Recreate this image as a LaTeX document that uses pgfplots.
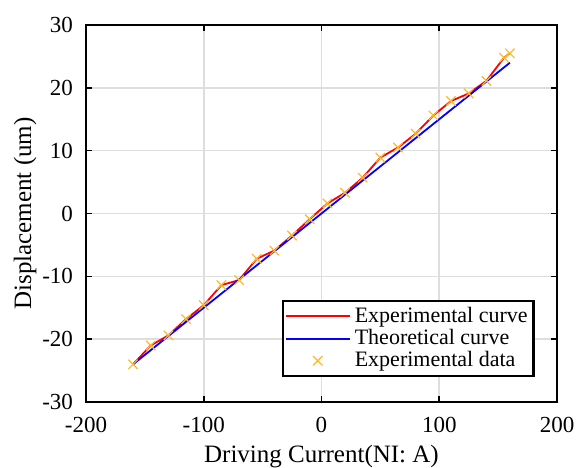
\documentclass[border=0pt]{standalone}
\usepackage{fontspec}
\setmainfont{Liberation Serif}
\usepackage{pgfplots}
\pgfplotsset{compat=1.18}
\definecolor{dataorange}{RGB}{255,184,40}
\definecolor{gridgray}{RGB}{222,222,222}
\pgfplotsset{
    longline/.style={legend image code/.code={\draw[##1, draw=#1, line width=1pt] (0pt,0pt) -- (32pt,0pt);}},
    centermark/.style={legend image code/.code={\draw[##1] plot coordinates {(16pt,0pt)};}},
}

\begin{document}
\begin{tikzpicture}
\begin{axis}[
    scale only axis,
    width=235.5pt, height=188.5pt,
    xmin=-200, xmax=200,
    ymin=-30, ymax=30,
    xtick={-200,-100,0,100,200},
    ytick={-30,-20,-10,0,10,20,30},
    xlabel={Driving Current(NI: A)},
    ylabel={Displacement (um)},
    font=\fontsize{11.5}{13}\selectfont,
    label style={font=\fontsize{12.5}{14}\selectfont},
    /pgf/number format/assume math mode=true,
    tick align=inside,
    tick pos=both,
    major tick length=3pt,
    grid=major,
    grid style={gridgray, line width=0.8pt},
    axis line style={line width=1pt},
    every tick/.style={black, line width=0.8pt},
    xticklabel style={yshift=-4pt},
    yticklabel style={xshift=-3pt},
    xlabel style={yshift=0.5pt},
    ylabel style={yshift=-4pt},
    legend cell align=left,
    legend style={at={(0.953,0.066)}, anchor=south east,
        draw=black, line width=1.2pt, inner sep=1pt,
        font=\fontsize{11}{11.5}\selectfont,
        row sep=-2pt},
]
\addplot[red, line width=0.9pt, longline=red] coordinates {
    (-160,-24.0) (-145,-21.0) (-130,-19.4) (-115,-16.8) (-100,-14.6)
    (-85,-11.4) (-70,-10.6) (-55,-7.2) (-40,-5.9) (-25,-3.5)
    (-10,-0.9) (5,1.6) (20,3.3) (35,5.7) (50,8.9)
    (65,10.5) (80,12.7) (95,15.6) (110,17.9) (125,19.1)
    (140,21.1) (155,24.8) (160,25.5)
};
\addlegendentry{Experimental curve}
\addplot[blue, line width=0.9pt, longline=blue] coordinates {
    (-160,-24.0) (160,24.0)
};
\addlegendentry{Theoretical curve}
\addplot[only marks, mark=x, mark size=3.3pt, dataorange,
    mark options={line width=0.6pt}, centermark] coordinates {
    (-160,-24.0) (-145,-21.0) (-130,-19.4) (-115,-16.8) (-100,-14.6)
    (-85,-11.4) (-70,-10.6) (-55,-7.2) (-40,-5.9) (-25,-3.5)
    (-10,-0.9) (5,1.6) (20,3.3) (35,5.7) (50,8.9)
    (65,10.5) (80,12.7) (95,15.6) (110,17.9) (125,19.1)
    (140,21.1) (155,24.8) (160,25.5)
};
\addlegendentry{Experimental data}
\end{axis}
\pgfresetboundingbox
\path[use as bounding box] (current axis.south west) ++(-43pt,-33pt)
    rectangle ([xshift=10.5pt,yshift=12.5pt]current axis.north east);
\end{tikzpicture}
\end{document}
